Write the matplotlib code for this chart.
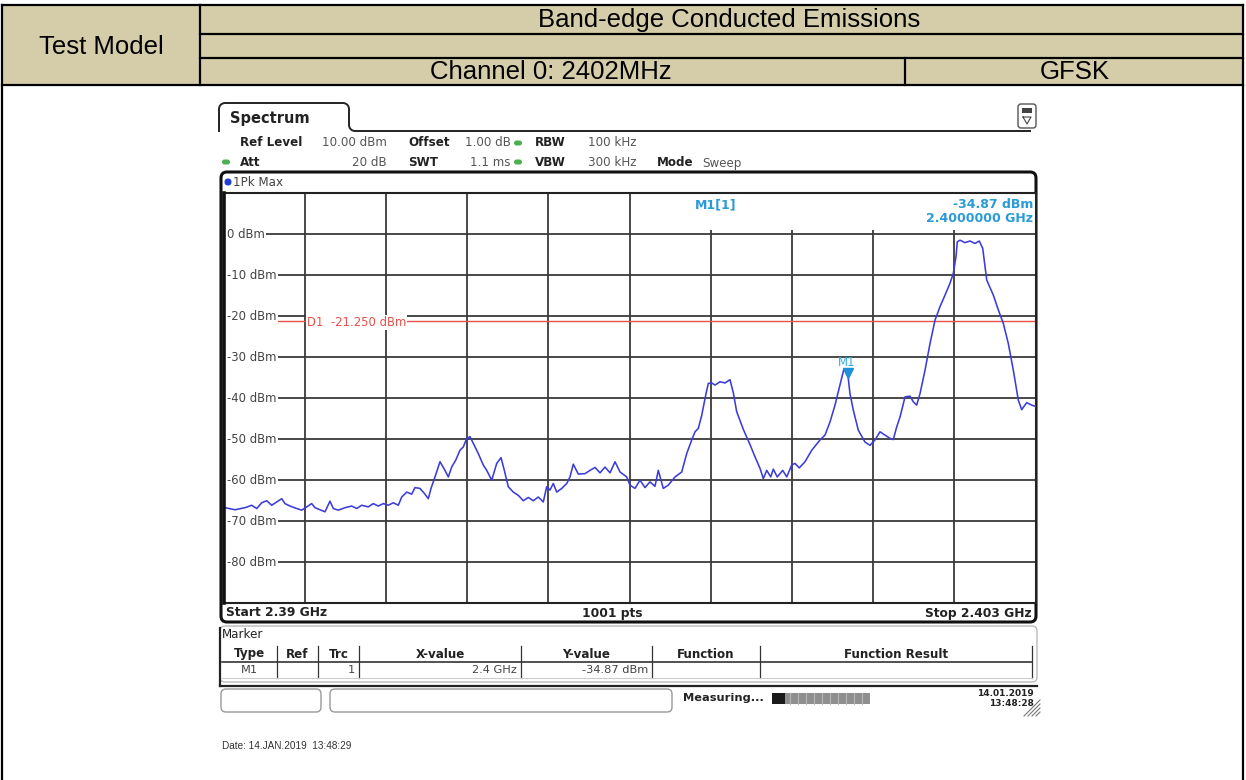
import numpy as np
import matplotlib.pyplot as plt
from matplotlib.patches import Rectangle, FancyBboxPatch
import matplotlib.transforms as mtransforms

# trace 1 (1Pk Max), frequency in MHz, level in dBm
freq_mhz = [
    2390.024, 2390.184, 2390.344, 2390.451, 2390.532, 2390.612, 2390.692, 2390.772,
    2390.852, 2390.932, 2390.985, 2391.065, 2391.172, 2391.252, 2391.332, 2391.412,
    2391.465, 2391.545, 2391.625, 2391.705, 2391.758, 2391.838, 2391.945, 2392.052,
    2392.133, 2392.213, 2392.318, 2392.398, 2392.478, 2392.558, 2392.638, 2392.718,
    2392.799, 2392.853, 2392.933, 2393.013, 2393.066, 2393.146, 2393.215, 2393.279,
    2393.322, 2393.386, 2393.466, 2393.546, 2393.599, 2393.653, 2393.718, 2393.786,
    2393.839, 2393.894, 2393.946, 2393.999, 2394.079, 2394.159, 2394.214, 2394.294,
    2394.374, 2394.443, 2394.496, 2394.560, 2394.640, 2394.720, 2394.800, 2394.880,
    2394.960, 2395.040, 2395.120, 2395.174, 2395.227, 2395.280, 2395.335, 2395.415,
    2395.495, 2395.547, 2395.600, 2395.680, 2395.788, 2395.868, 2395.948, 2396.028,
    2396.108, 2396.188, 2396.268, 2396.348, 2396.455, 2396.508, 2396.588, 2396.668,
    2396.748, 2396.828, 2396.908, 2396.961, 2397.041, 2397.121, 2397.229, 2397.336,
    2397.416, 2397.496, 2397.549, 2397.601, 2397.656, 2397.725, 2397.762, 2397.816,
    2397.869, 2397.949, 2398.029, 2398.109, 2398.162, 2398.216, 2398.322, 2398.429,
    2398.509, 2398.589, 2398.642, 2398.697, 2398.761, 2398.802, 2398.866, 2398.953,
    2399.017, 2399.097, 2399.150, 2399.218, 2399.310, 2399.417, 2399.550, 2399.630,
    2399.710, 2399.790, 2399.870, 2399.934, 2400.000, 2400.030, 2400.083, 2400.163,
    2400.270, 2400.350, 2400.430, 2400.510, 2400.590, 2400.670, 2400.723, 2400.778,
    2400.831, 2400.911, 2400.991, 2401.044, 2401.098, 2401.151, 2401.231, 2401.311,
    2401.391, 2401.471, 2401.551, 2401.631, 2401.684, 2401.727, 2401.748, 2401.791,
    2401.871, 2401.951, 2402.031, 2402.100, 2402.155, 2402.219, 2402.325, 2402.405,
    2402.485, 2402.565, 2402.645, 2402.725, 2402.779, 2402.859, 2402.939, 2403.000,
]
level_dbm = [
    -66.7, -67.2, -66.7, -66.1, -66.9, -65.5, -65.0, -66.1,
    -65.3, -64.5, -65.7, -66.3, -66.9, -67.3, -66.5, -65.7,
    -66.7, -67.2, -67.7, -65.1, -66.9, -67.3, -66.7, -66.3,
    -66.9, -66.1, -66.5, -65.7, -66.3, -65.7, -66.1, -65.5,
    -66.1, -64.1, -62.9, -63.4, -61.8, -62.0, -63.2, -64.5,
    -62.0, -59.2, -55.5, -57.6, -59.2, -56.8, -55.1, -52.7,
    -51.9, -49.8, -49.4, -51.0, -53.5, -56.3, -57.6, -60.0,
    -55.9, -54.5, -57.6, -61.6, -62.9, -63.7, -65.0, -64.2,
    -65.0, -64.1, -65.3, -61.6, -62.4, -60.8, -62.9, -62.0,
    -60.8, -59.2, -56.1, -58.5, -58.4, -57.6, -56.9, -58.2,
    -56.8, -58.2, -55.5, -58.0, -59.2, -61.2, -62.0, -60.0,
    -61.8, -60.4, -61.5, -57.6, -62.0, -61.2, -59.2, -58.0,
    -53.5, -50.2, -48.2, -47.4, -44.2, -38.9, -36.4, -36.3,
    -36.8, -36.0, -36.3, -35.5, -38.7, -43.3, -47.6, -51.3,
    -54.3, -57.1, -59.6, -57.6, -59.2, -57.3, -59.2, -57.6,
    -59.2, -56.3, -55.9, -57.0, -55.5, -52.7, -50.2, -49.0,
    -45.8, -41.7, -36.8, -32.8, -34.87, -38.9, -42.9, -47.8,
    -50.7, -51.5, -50.2, -48.2, -49.0, -49.8, -50.1, -47.0,
    -44.6, -39.7, -39.5, -40.9, -41.7, -38.9, -33.2, -26.7,
    -21.0, -17.7, -14.9, -12.0, -9.6, -5.5, -1.9, -1.5,
    -2.1, -1.7, -2.3, -1.7, -3.5, -11.2, -14.9, -18.5,
    -21.8, -26.7, -33.2, -40.5, -42.8, -41.1, -41.7, -42.0,
]

start_mhz, stop_mhz = 2390.0, 2403.0
ref_level, bottom_level = 10, -90
grid_levels = [0, -10, -20, -30, -40, -50, -60, -70, -80]
d1_level = -21.25
m1_freq, m1_level = 2400.0, -34.87

header_title = "Band-edge Conducted Emissions"
test_model = "Test Model"
channel_text = "Channel 0: 2402MHz"
modulation = "GFSK"

table_cols = ["Type", "Ref", "Trc", "X-value", "Y-value", "Function", "Function Result"]
table_row = ["M1", "", "1", "2.4 GHz", "-34.87 dBm", "", ""]

W, H = 1246, 780
fig = plt.figure(figsize=(W / 100, H / 100), dpi=100)

# pixel canvas for the report table and the analyser frame
bg = fig.add_axes([0, 0, 1, 1])
bg.set_xlim(0, W)
bg.set_ylim(H, 0)
bg.axis("off")

KHAKI = "#d5cdaa"
TFONT = "Liberation Sans"
UFONT = "DejaVu Sans"

# report header
bg.add_patch(Rectangle((2, 5), 1241, 80, facecolor=KHAKI, edgecolor="none"))
for y0, x0 in [(5, 2), (34, 200), (58, 200), (85, 2)]:
    bg.plot([x0, 1243], [y0, y0], color="black", lw=1.6)
bg.plot([2, 2], [5, 780], color="black", lw=1.6)
bg.plot([1243, 1243], [5, 780], color="black", lw=1.6)
bg.plot([200, 200], [5, 85], color="black", lw=1.6)
bg.plot([905, 905], [58, 85], color="black", lw=1.6)

HSIZE = 18.5
bg.text(101, 47, test_model, fontsize=HSIZE, family=TFONT, ha="center", va="center")
bg.text(729, 20, header_title, fontsize=HSIZE, family=TFONT, ha="center", va="center")
bg.text(551, 72, channel_text, fontsize=HSIZE, family=TFONT, ha="center", va="center")
bg.text(1075, 72, modulation, fontsize=HSIZE, family=TFONT, ha="center", va="center")

# "Spectrum" tab and the line running right from it
def arc(cx, cy, r, a0, a1, n=8):
    t = np.radians(np.linspace(a0, a1, n))
    return list(cx + r * np.cos(t)), list(cy - r * np.sin(t))

tx, ty = [219], [131]
for seg in [arc(225, 109, 6, 180, 90), arc(343, 109, 6, 90, 0), arc(355, 125, 6, 180, 270)]:
    tx += seg[0]
    ty += seg[1]
tx += [1030]
ty += [131]
bg.plot(tx, ty, color="#222222", lw=1.4)
bg.text(230, 118, "Spectrum", fontsize=10.5, family=UFONT, weight="bold",
        ha="left", va="center", color="#222222")
bg.add_patch(FancyBboxPatch((1018, 104), 18, 24, boxstyle="round,pad=0,rounding_size=3",
                            facecolor="white", edgecolor="#555555", lw=1))
bg.add_patch(Rectangle((1022, 108), 10, 5, facecolor="#444444", edgecolor="none"))
bg.plot([1023, 1027, 1031, 1023], [117, 124, 117, 117], color="#444444", lw=0.8)

# setting lines
def setting(x, y, label, value, value_right=None):
    bg.text(x, y, label, fontsize=8.6, family=UFONT, weight="bold", color="#222222",
            ha="left", va="center")
    if value_right is not None:
        bg.text(value_right, y, value, fontsize=8.6, family=UFONT, color="#555555",
                ha="right", va="center")

def dot(x, y, color):
    bg.add_patch(FancyBboxPatch((x - 4, y - 2.5), 8, 5, boxstyle="round,pad=0,rounding_size=2.5",
                                facecolor=color, edgecolor="none"))

setting(240, 143, "Ref Level", "10.00 dBm", 387)
setting(408, 143, "Offset", "1.00 dB", 511)
dot(518, 143, "#4caf50")
setting(535, 143, "RBW", "100 kHz", 637)
dot(226, 162, "#4caf50")
setting(240, 162, "Att", "20 dB", 387)
setting(408, 162, "SWT", "1.1 ms", 511)
dot(518, 162, "#4caf50")
setting(535, 162, "VBW", "300 kHz", 637)
setting(657, 163, "Mode", "", None)
bg.text(702, 163, "Sweep", fontsize=8.6, family=UFONT, color="#555555", ha="left", va="center")

# diagram frame
bg.add_patch(FancyBboxPatch((221, 172), 815, 450, boxstyle="round,pad=0,rounding_size=6",
                            facecolor="white", edgecolor="#111111", lw=2.2, zorder=0))
bg.add_patch(FancyBboxPatch((224.5, 178.5), 7, 7, boxstyle="round,pad=0,rounding_size=3.5",
                            facecolor="#1f3fd8", edgecolor="none"))
bg.text(233, 182, "1Pk Max", fontsize=8.6, family=UFONT, color="#444444", ha="left", va="center")
bg.text(226, 613, "Start 2.39 GHz", fontsize=8.8, family=UFONT, weight="bold",
        color="#222222", ha="left", va="center")
bg.text(612, 613, "1001 pts", fontsize=8.8, family=UFONT, weight="bold",
        color="#222222", ha="center", va="center")
bg.text(1032, 613, "Stop 2.403 GHz", fontsize=8.8, family=UFONT, weight="bold",
        color="#222222", ha="right", va="center")

# marker table
bg.add_patch(FancyBboxPatch((220, 626), 817, 56, boxstyle="round,pad=0,rounding_size=5",
                            facecolor="white", edgecolor="#bbbbbb", lw=1))
bg.plot([220, 220], [628, 686], color="#222222", lw=1.6)
bg.plot([220, 1037], [686, 686], color="#222222", lw=1.6)
bg.text(222, 635, "Marker", fontsize=8.6, family=UFONT, color="#222222", ha="left", va="center")
col_edges = [222, 277, 318, 359, 521, 652, 760, 1032]
for xe in col_edges[1:]:
    bg.plot([xe, xe], [646, 678], color="#333333", lw=0.9)
bg.plot([222, 1032], [662, 662], color="#333333", lw=1.2)
bg.plot([222, 1032], [678, 678], color="#cccccc", lw=0.8)
for i, name in enumerate(table_cols):
    xc = (col_edges[i] + col_edges[i + 1]) / 2
    bg.text(xc, 654, name, fontsize=8.6, family=UFONT, weight="bold", color="#222222",
            ha="center", va="center")
for i, val in enumerate(table_row):
    if not val:
        continue
    if i == 0:
        bg.text((col_edges[0] + col_edges[1]) / 2, 670, val, fontsize=8.2, family=UFONT,
                color="#444444", ha="center", va="center")
    else:
        bg.text(col_edges[i + 1] - 4, 670, val, fontsize=8.2, family=UFONT,
                color="#444444", ha="right", va="center")

# status bar
for x0, w0 in [(221, 100), (330, 342)]:
    bg.add_patch(FancyBboxPatch((x0, 689), w0, 23, boxstyle="round,pad=0,rounding_size=5",
                                facecolor="white", edgecolor="#999999", lw=1))
bg.text(683, 698, "Measuring...", fontsize=8.2, family=UFONT, weight="bold",
        color="#222222", ha="left", va="center")
bg.add_patch(Rectangle((772, 693), 98, 11, facecolor="#8f8f8f", edgecolor="none"))
bg.add_patch(Rectangle((772, 693), 13, 11, facecolor="#1a1a1a", edgecolor="none"))
for xs in range(790, 870, 8):
    bg.plot([xs, xs], [693, 704], color="#b5b5b5", lw=0.8)
bg.text(1034, 693, "14.01.2019", fontsize=6.5, family=UFONT, weight="bold",
        color="#222222", ha="right", va="center")
bg.text(1034, 703, "13:48:28", fontsize=6.5, family=UFONT, weight="bold",
        color="#222222", ha="right", va="center")
for k in range(5):
    bg.plot([1024 + 4 * k, 1040], [716, 700 + 4 * k], color="#777777", lw=0.8)
bg.text(222, 746, "Date: 14.JAN.2019  13:48:29", fontsize=7.2, family=TFONT,
        color="#333333", ha="left", va="center")

# spectrum diagram
ax = fig.add_axes([223.5 / W, (H - 603.3) / H, 812 / W, 410.3 / H])
ax.set_xlim(start_mhz, stop_mhz)
ax.set_ylim(bottom_level, ref_level)
ax.set_xticks(np.linspace(start_mhz, stop_mhz, 11))
ax.set_yticks(np.arange(bottom_level, ref_level + 1, 10))
ax.tick_params(length=0, labelbottom=False, labelleft=False)
ax.set_axisbelow(True)
ax.grid(True, color="#3a3a3a", lw=1.3)
for side in ["top", "bottom", "right"]:
    ax.spines[side].set_color("#222222")
    ax.spines[side].set_linewidth(1.5)
ax.spines["left"].set_color("#111111")
ax.spines["left"].set_linewidth(2.6)
ax.spines["left"].set_zorder(6)

for lv in grid_levels:
    ax.text(start_mhz + 0.05, lv, f"{lv} dBm", fontsize=8.4, family=UFONT, color="#444444",
            ha="left", va="center", zorder=3,
            bbox=dict(facecolor="white", edgecolor="none", pad=1.2))

# area kept clear for the marker readout
ax.add_patch(Rectangle((2396.62, 1.0), stop_mhz - 2396.62, ref_level - 1.0,
                       facecolor="white", edgecolor="none", zorder=1))

ax.axhline(d1_level, color="#e8504a", lw=1.0, zorder=2)
ax.text(2391.33, d1_level - 0.3, f"D1  {d1_level:.3f} dBm", fontsize=8.4, family=UFONT,
        color="#e8504a", ha="left", va="center", zorder=3,
        bbox=dict(facecolor="white", edgecolor="none", pad=0.6))

ax.plot(freq_mhz, level_dbm, color="#3c3cdc", lw=1.15, zorder=4)

mark_tr = mtransforms.offset_copy(ax.transData, fig=fig, x=0, y=4, units="dots")
ax.plot([m1_freq], [m1_level], marker="v", ms=7, color="#1e90d8", transform=mark_tr, zorder=5)
ax.annotate("M1", (m1_freq, m1_level), xytext=(-1, 15), textcoords="offset pixels",
            fontsize=8.4, family=UFONT, color="#35a7e0", ha="center", va="center", zorder=5)

ax.text(0.58, 0.972, "M1[1]", transform=ax.transAxes, fontsize=9, family=UFONT,
        weight="bold", color="#2a9ad8", ha="left", va="center", zorder=5)
ax.text(0.997, 0.972, f"{m1_level:.2f} dBm", transform=ax.transAxes, fontsize=9,
        family=UFONT, weight="bold", color="#2a9ad8", ha="right", va="center", zorder=5)
ax.text(0.997, 0.937, f"{m1_freq / 1000:.7f} GHz", transform=ax.transAxes, fontsize=9,
        family=UFONT, weight="bold", color="#2a9ad8", ha="right", va="center", zorder=5)

plt.savefig("out.png", dpi=100)
